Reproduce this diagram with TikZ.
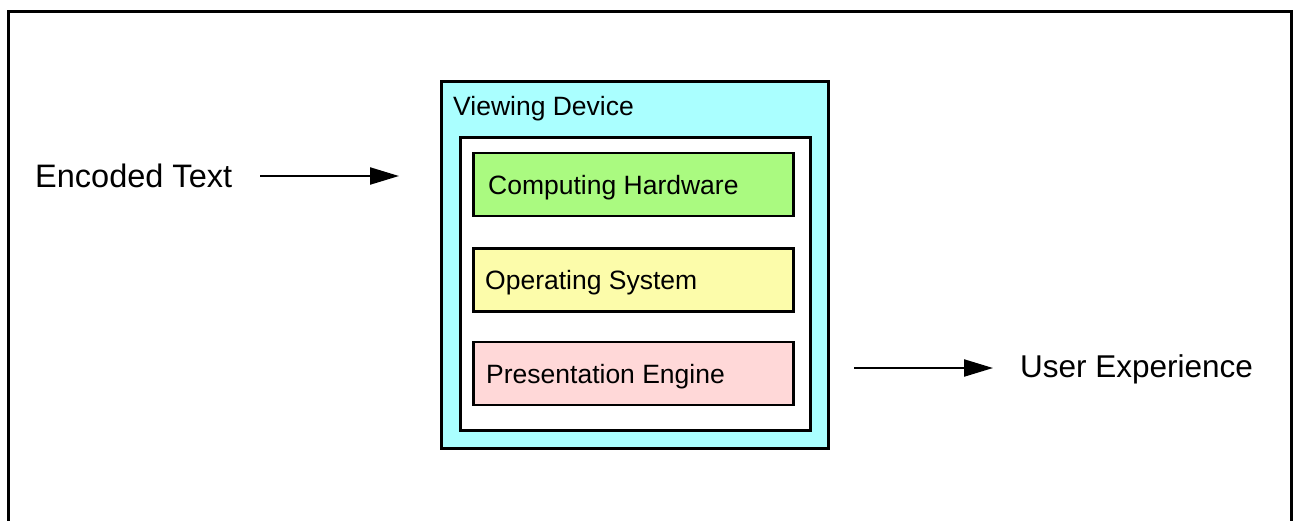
\documentclass[tikz,border=0pt]{standalone}
\usepackage{fontspec}
\setmainfont{Liberation Sans}
\usetikzlibrary{arrows.meta}
\definecolor{devcyan}{RGB}{170,255,255}
\definecolor{hwgreen}{RGB}{170,250,128}
\definecolor{osyellow}{RGB}{252,252,170}
\definecolor{pepink}{RGB}{255,216,216}
\tikzset{
  layerbox/.style={draw=black, line width=2.5pt, rectangle, outer sep=0pt, inner sep=0pt, anchor=north west},
  boxtext/.style={anchor=base west, inner sep=0pt, font=\fontsize{26.5}{30}\selectfont},
  bigtext/.style={anchor=base west, inner sep=0pt, font=\fontsize{31.5}{36}\selectfont},
  flow/.style={line width=2.2pt, -{Triangle[length=29pt,width=17pt]}},
}
\begin{document}
\begin{tikzpicture}[x=1pt,y=-1pt]
\useasboundingbox (0,0) rectangle (1295,520);
% outer frame (bottom edge lies outside the picture)
\draw[line width=3pt] (8,540) -- (8,11) -- (1291,11) -- (1291,540);
% viewing device
\node[layerbox, line width=3pt, fill=devcyan, minimum width=387pt, minimum height=367pt] (dev) at (441.5,81.5) {};
\node[layerbox, fill=white, minimum width=350pt, minimum height=293pt] (stack) at (460.5,137.5) {};
\node[layerbox, fill=hwgreen, minimum width=320pt, minimum height=63pt] (hw) at (473.5,153) {};
\node[layerbox, fill=osyellow, minimum width=320pt, minimum height=63pt] (os) at (473.5,248.5) {};
\node[layerbox, fill=pepink, minimum width=320pt, minimum height=63pt] (pe) at (473.5,342) {};
\node[boxtext] (devlbl) at (453,115) {Viewing Device};
\node[boxtext] (hwlbl) at (488,194) {Computing Hardware};
\node[boxtext] (oslbl) at (485,289.5) {Operating System};
\node[boxtext] (pelbl) at (486,383) {Presentation Engine};
% outer labels and arrows
\node[bigtext, font=\fontsize{32.5}{36}\selectfont] (enc) at (35,187) {Encoded Text};
\node[bigtext] (ux) at (1020,377) {User Experience};
\coordinate (encs) at (260,176);
\coordinate (ence) at (399,176);
\coordinate (uxs) at (854,368);
\coordinate (uxe) at (993,368);
\draw[flow] (encs) -- (ence);
\draw[flow] (uxs) -- (uxe);
\end{tikzpicture}
\end{document}
